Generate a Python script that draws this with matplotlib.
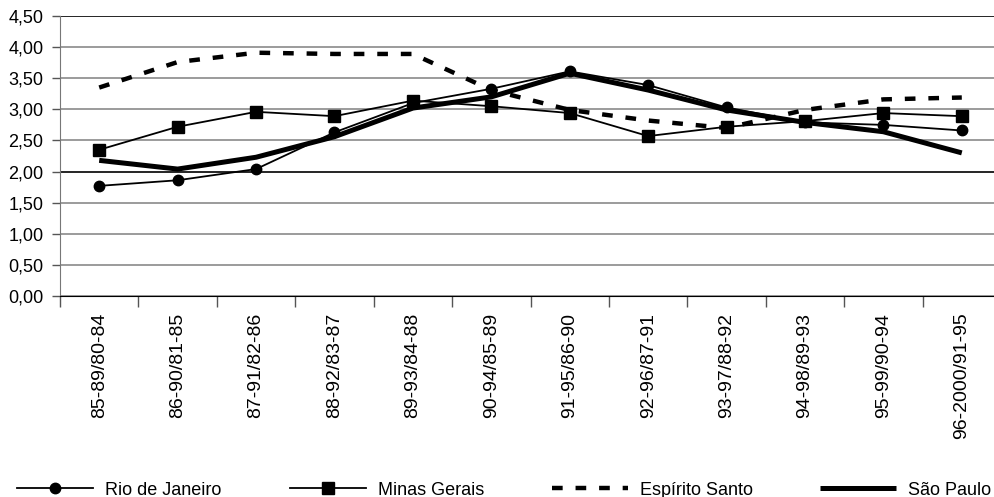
import matplotlib
matplotlib.use("Agg")
import matplotlib.pyplot as plt
from matplotlib.ticker import FuncFormatter, MultipleLocator, FixedLocator
import numpy as np

periods = ["85-89/80-84", "86-90/81-85", "87-91/82-86", "88-92/83-87", "89-93/84-88",
           "90-94/85-89", "91-95/86-90", "92-96/87-91", "93-97/88-92", "94-98/89-93",
           "95-99/90-94", "96-2000/91-95"]

rio = [1.77, 1.86, 2.04, 2.63, 3.10, 3.33, 3.61, 3.39, 3.03, 2.79, 2.75, 2.66]
minas = [2.35, 2.72, 2.96, 2.89, 3.14, 3.05, 2.94, 2.57, 2.72, 2.81, 2.94, 2.89]
espirito = [3.35, 3.76, 3.91, 3.89, 3.89, 3.31, 2.99, 2.82, 2.70, 2.99, 3.16, 3.19]
sao_paulo = [2.18, 2.04, 2.23, 2.56, 3.02, 3.20, 3.58, 3.31, 2.99, 2.79, 2.64, 2.30]

plt.rcParams['font.family'] = ['Liberation Sans', 'DejaVu Sans']
plt.rcParams['font.size'] = 13

fig = plt.figure(figsize=(9.94, 4.97), dpi=100)
ax = fig.add_axes([60 / 994, 1 - 296 / 497, 941 / 994, 280 / 497])

x = np.arange(len(periods))
h_rio, = ax.plot(x, rio, color='black', lw=1.3, marker='o', ms=7.5, label='Rio de Janeiro', zorder=4)
h_minas, = ax.plot(x, minas, color='black', lw=1.3, marker='s', ms=8, label='Minas Gerais', zorder=4)
h_es, = ax.plot(x, espirito, color='black', lw=3.2, linestyle=(0, (2.4, 2.9)),
                dash_capstyle='butt', label='Espírito Santo', zorder=3)
h_sp, = ax.plot(x, sao_paulo, color='black', lw=3.6, solid_capstyle='butt',
                label='São Paulo', zorder=3)

ax.set_xlim(-0.5, len(periods) - 0.5)
ax.set_ylim(0, 4.5)

ax.yaxis.set_major_locator(MultipleLocator(0.5))
ax.yaxis.set_major_formatter(FuncFormatter(lambda v, p: f"{v:.2f}".replace('.', ',')))
ax.tick_params(axis='y', length=6, width=1, color='#555555', pad=6, labelsize=13)

ax.set_xticks(x)
ax.set_xticklabels(periods, rotation=90, va='top', ha='center', fontsize=14)
ax.xaxis.set_minor_locator(FixedLocator(np.arange(-0.5, len(periods), 1.0)))
ax.tick_params(axis='x', which='major', length=0, pad=12)
ax.tick_params(axis='x', which='minor', length=8, width=1, color='#555555')

ax.grid(axis='y', color='#8a8a8a', lw=1.2)
for v, gl in zip(ax.get_yticks(), ax.get_ygridlines()):
    if abs(v - 2.0) < 1e-6 or abs(v - 4.5) < 1e-6:
        gl.set_color('black')
        gl.set_linewidth(1.2)
ax.set_axisbelow(True)

for s in ['top', 'right']:
    ax.spines[s].set_visible(False)
ax.spines['left'].set_color('#777777')
ax.spines['bottom'].set_color('black')

# legend entries spread along the bottom
for h, xpos in zip([h_rio, h_minas, h_es, h_sp], [17, 290, 552, 820]):
    fig.legend(handles=[h], loc='center left', bbox_to_anchor=(xpos / 994, 0.014),
               frameon=False, borderpad=0, borderaxespad=0, handlelength=4.2,
               handletextpad=0.7, fontsize=13)

fig.savefig('out.png', dpi=100)
